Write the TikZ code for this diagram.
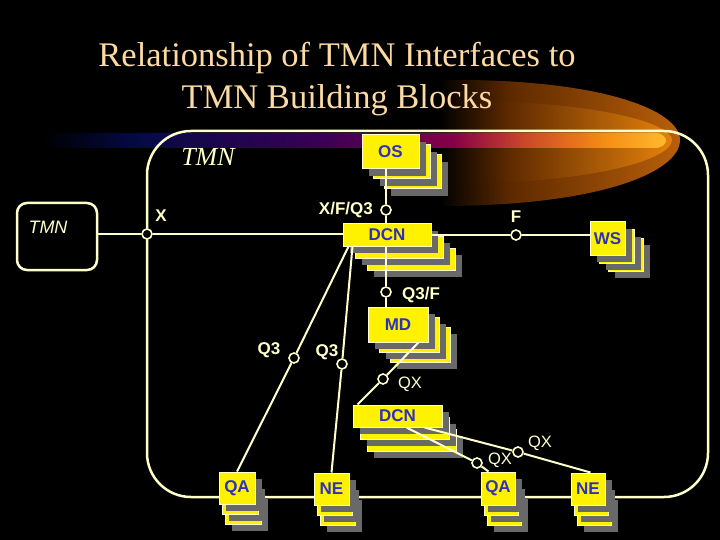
\documentclass[tikz,border=0pt]{standalone}
\usepackage{fontspec}
\setmainfont{Liberation Serif}
\setsansfont{Liberation Sans}
\usetikzlibrary{calc}

\definecolor{cream}{RGB}{255,255,204}
\definecolor{titlecol}{RGB}{252,218,162}
\definecolor{boxblue}{RGB}{48,48,190}
\definecolor{cardgray}{RGB}{105,105,105}
\definecolor{swnavy}{RGB}{5,10,70}
\definecolor{swpurple}{RGB}{60,0,85}
\definecolor{swberry}{RGB}{135,0,70}
\definecolor{swred}{RGB}{205,75,40}
\definecolor{sworange}{RGB}{245,140,20}
\definecolor{swlight}{RGB}{255,185,45}
\definecolor{lensdark}{RGB}{95,42,0}
\definecolor{lensmid}{RGB}{185,95,10}
\definecolor{lenslight}{RGB}{230,130,12}

\pgfdeclarehorizontalshading{swooshbar}{100bp}{color(0bp)=(black); color(25bp)=(black); color(33bp)=(swnavy); color(48bp)=(swpurple); color(58bp)=(swberry); color(64bp)=(swred); color(70bp)=(sworange); color(75bp)=(swlight); color(100bp)=(swlight)}
\pgfdeclarehorizontalshading{lensouter}{100bp}{color(0bp)=(black); color(25bp)=(black); color(40bp)=(lensdark); color(75bp)=(lensmid); color(100bp)=(lensmid)}
\pgfdeclarehorizontalshading{lensinner}{100bp}{color(0bp)=(black); color(25bp)=(black); color(40bp)=(lensdark); color(75bp)=(lenslight); color(100bp)=(lenslight)}

% back cards of a block: face corners, then step between cards
\def\cardstack(#1,#2)(#3,#4)[#5,#6]{%
	\foreach \k in {2,1}{
		\fill[cardgray] ({#1+\k*#5+7},{#2+\k*#6+7}) rectangle ({#3+\k*#5+7},{#4+\k*#6+7});
		\draw[card] ({#1+\k*#5},{#2+\k*#6}) rectangle ({#3+\k*#5},{#4+\k*#6});
	}
	\fill[cardgray] ({#1+7},{#2+7}) rectangle ({#3+7},{#4+7});
}

\tikzset{
	card/.style={fill=yellow, draw=cream, line width=1pt},
	block/.style={draw=cream, line width=1pt, fill=yellow, text=boxblue, inner sep=0pt,
		font=\sffamily\bfseries\fontsize{17}{19}\selectfont},
	link/.style={draw=cream, line width=2pt},
	port/.style={circle, draw=cream, fill=black, line width=1.6pt, minimum size=10pt, inner sep=0pt},
	iflabel/.style={text=cream, inner sep=0pt, font=\sffamily\bfseries\fontsize{17}{19}\selectfont},
	qxlabel/.style={text=cream, inner sep=0pt, font=\sffamily\fontsize{16.5}{18}\selectfont}
}

\begin{document}
\begin{tikzpicture}[x=1pt, y=-1pt]
			%%%%% BACKGROUND %%%%%
			\useasboundingbox (0,0) rectangle (720,540);
			\fill[black] (0,0) rectangle (720,540);
			
			\shade[shading=lensouter] (440,80) .. controls (600,78) and (680,110) .. (680,140) .. controls (680,172) and (600,206) .. (440,206) -- cycle;
			\shade[shading=lensinner] (440,100) .. controls (600,100) and (672,124) .. (672,140) .. controls (672,158) and (600,184) .. (440,184) -- cycle;
			\shade[shading=swooshbar] (40,133) -- (655,133) .. controls (663,133) and (666,138) .. (666,140.5) .. controls (666,143) and (663,148) .. (655,148) -- (40,148) -- cycle;
			
			\node[text=titlecol, align=center, font=\fontsize{34.5}{42}\selectfont] (title) at (337,79) {Relationship of TMN Interfaces to\\TMN Building Blocks};
			
			%%%%% TMN FRAMES %%%%%
			\draw[link, line width=2.5pt, rounded corners=44pt] (147,131) rectangle (708,497);
			\node[draw=cream, line width=2.5pt, rounded corners=10pt, minimum width=80pt, minimum height=67pt] (tmnbox) at (57,236.5) {};
			\node[text=cream, font=\sffamily\itshape\fontsize{18}{20}\selectfont] (tmnsmall) at (48,227) {TMN};
			\node[text=cream, font=\itshape\fontsize{26}{28}\selectfont] (tmnbig) at (208,157) {TMN};
			
			%%%%% BLOCKS %%%%%
			\cardstack(362,135)(419,169)[11,10]
			\cardstack(343,224)(431,246)[12,12]
			\cardstack(590,222)(625,255)[9,8]
			\cardstack(368,307)(428,342)[11,10]
			\cardstack(353,405)(442,427)[7,12]
			\cardstack(219,472)(255,504)[3,10]
			\cardstack(314,473)(349,505)[3,10]
			\cardstack(481,472)(515,505)[3,10]
			\cardstack(571,473)(605,505)[3,10]
			
			\node[block, minimum width=57pt, minimum height=34pt] (os) at (390.5,152) {OS};
			\node[block, minimum width=88pt, minimum height=22pt] (dcn) at (387,235) {DCN};
			\node[block, minimum width=35pt, minimum height=33pt] (ws) at (607.5,238.5) {WS};
			\node[block, minimum width=60pt, minimum height=35pt] (md) at (398,324.5) {MD};
			\node[block, minimum width=89pt, minimum height=22pt] (dcnlow) at (397.5,416) {DCN};
			\node[block, minimum width=36pt, minimum height=32pt] (qaleft) at (237,488) {QA};
			\node[block, minimum width=35pt, minimum height=32pt] (neleft) at (331.5,489) {NE};
			\node[block, minimum width=34pt, minimum height=33pt] (qaright) at (498,488.5) {QA};
			\node[block, minimum width=34pt, minimum height=32pt] (neright) at (588,489) {NE};
			
			%%%%% INTERFACES %%%%%
			\node[port] (px) at (147,234) {};
			\node[port] (pxfq) at (386,210) {};
			\node[port] (pf) at (516,235) {};
			\node[port] (pqf) at (386,292) {};
			\node[port] (pqa) at (294,358) {};
			\node[port] (pqb) at (342,364) {};
			\node[port] (pqx) at (383,379) {};
			\node[port] (pqxa) at (477,463) {};
			\node[port] (pqxb) at (518,452) {};
			
			\draw[link] (tmnbox.east |- px) -- (px) -- (px -| dcn.west);
			\draw[link] (pxfq |- os.south) -- (pxfq) -- (pxfq |- dcn.north);
			\draw[link] (pqf |- dcn.south) -- (pqf) -- (pqf |- md.north);
			\draw[link] (dcn.east |- pf) -- (pf) -- (ws.west |- pf);
			\draw[link] ([xshift=6pt]dcn.south west) -- (pqa) -- (qaleft.north);
			\draw[link] ([xshift=10pt]dcn.south west) -- (pqb) -- (neleft.north);
			\draw[link] ([xshift=-10pt]md.south east) -- (pqx) -- ([xshift=5pt]dcnlow.north west);
			\draw[link] ([xshift=54pt]dcnlow.south west) -- (pqxa) -- ([xshift=8pt]qaright.north west);
			\draw[link] ([xshift=72pt]dcnlow.south west) -- (pqxb) -- ([xshift=-15pt]neright.north east);
			
			\node[iflabel] (lx) at (161,216) {X};
			\node[iflabel, anchor=east] (lxfq) at (373,210) {X/F/Q3};
			\node[iflabel] (lf) at (516,217) {F};
			\node[iflabel, anchor=west] (lqf) at (402,295) {Q3/F};
			\node[iflabel] (lqa) at (269,350) {Q3};
			\node[iflabel] (lqb) at (327,352) {Q3};
			\node[qxlabel] (lqx) at (410,384) {QX};
			\node[qxlabel] (lqxa) at (500,460) {QX};
			\node[qxlabel] (lqxb) at (540,443) {QX};
			
		\end{tikzpicture}
\end{document}
